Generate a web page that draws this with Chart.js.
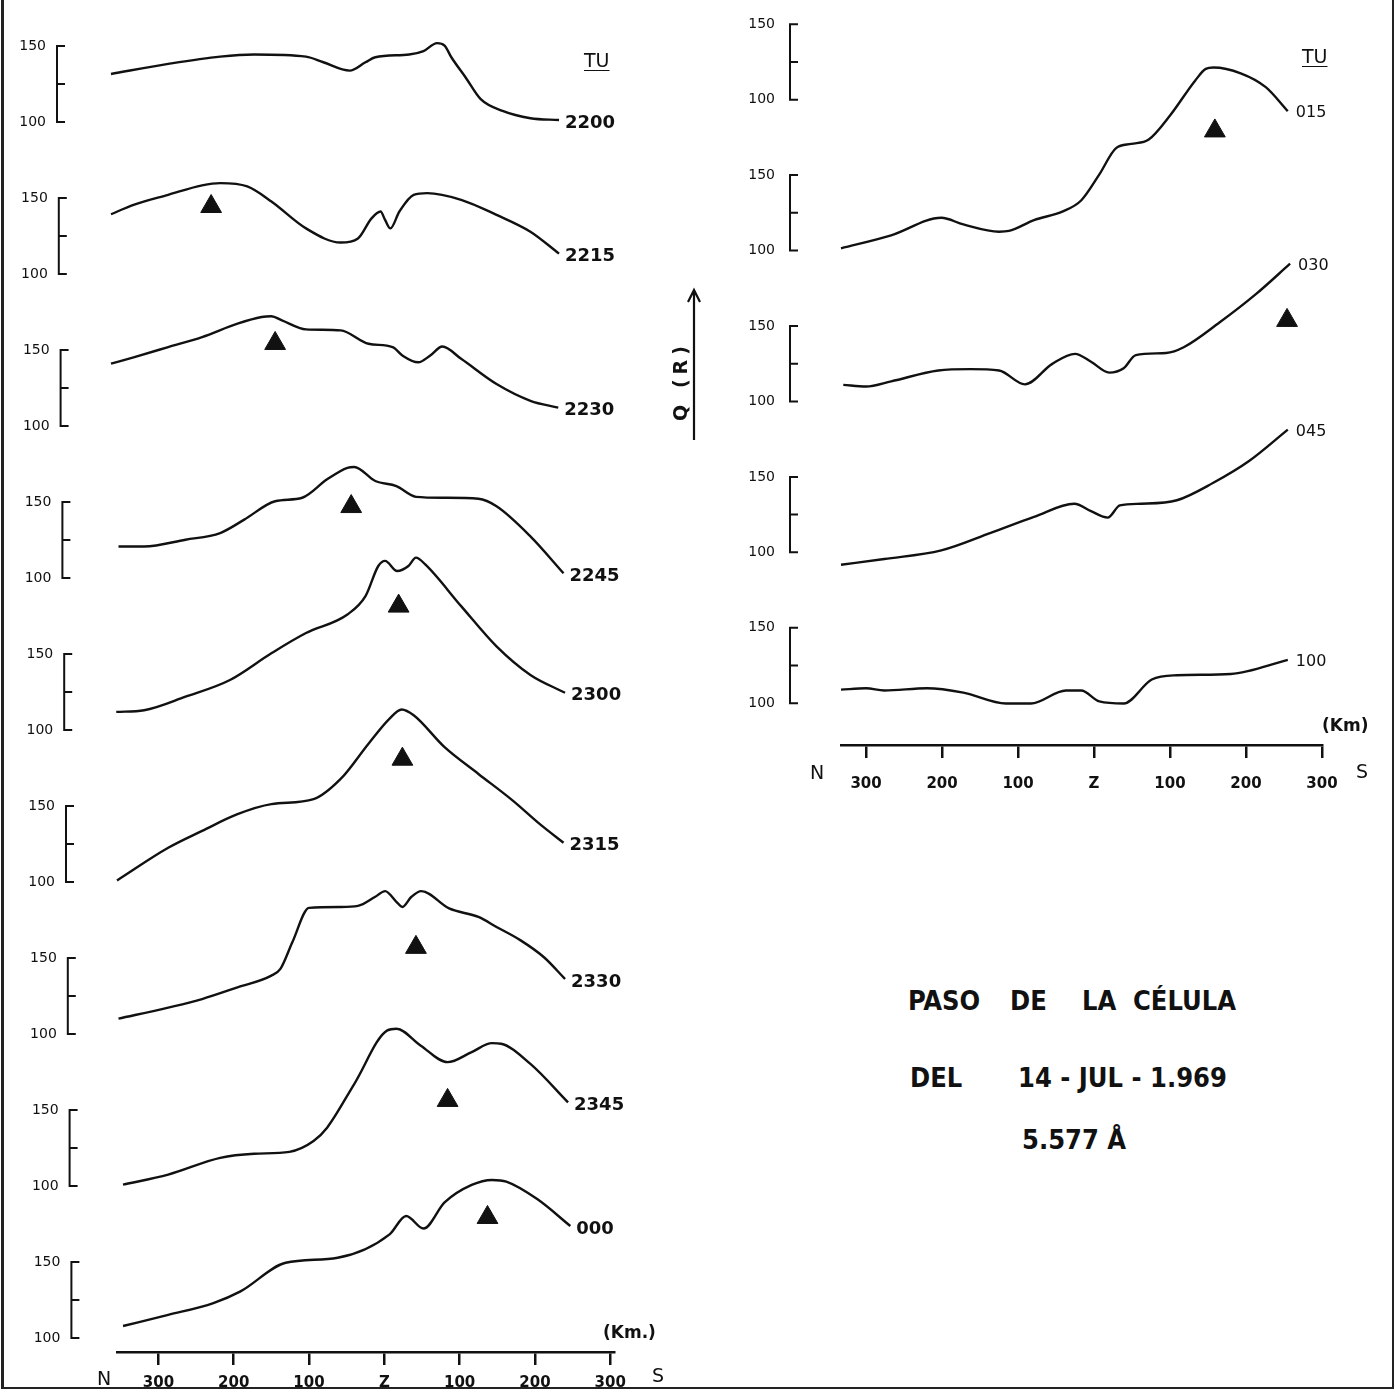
<!DOCTYPE html>
<html lang="es">
<head>
<meta charset="utf-8">
<title>Paso de la célula del 14-JUL-1969</title>
<script src="https://cdn.jsdelivr.net/npm/chart.js@4.4.1/dist/chart.umd.min.js"></script>
<style>
  html, body { margin: 0; padding: 0; background: #fff; }
  #page { position: relative; width: 1395px; height: 1393px; overflow: hidden; background: #fff; color: #111; font-family: 'DejaVu Sans', sans-serif; }
  #frame { position: absolute; left: 1px; top: -4px; width: 1388px; height: 1391px; border-left: 3px solid #222; border-right: 2px solid #222; border-bottom: 2px solid #222; }
  canvas { position: absolute; top: 0; }
  #leftChart { left: 0; }
  #rightChart { left: 700px; }
  .txt { position: absolute; white-space: nowrap; line-height: 24px; font-size: 19px; }
  .tu { text-decoration: underline; text-underline-offset: 3px; }
  .km { font-size: 17px; font-weight: bold; }
  .title { position: absolute; white-space: nowrap; line-height: 30px; font-family: 'DejaVu Sans Condensed', 'DejaVu Sans', sans-serif; font-weight: bold; font-size: 27px; }
  #qlabel { position: absolute; left: 680px; top: 381px; transform: translate(-50%, -50%) rotate(-90deg); font-weight: bold; font-size: 19px; letter-spacing: 5px; white-space: nowrap; }
  #arrow { position: absolute; left: 684px; top: 284px; }
</style>
</head>
<body>
<div id="page">
  <div id="frame"></div>
  <canvas id="leftChart" width="700" height="1393"></canvas>
  <canvas id="rightChart" width="695" height="800"></canvas>

  <div class="txt tu" style="left:584px; top:48px">TU</div>
  <div class="txt tu" style="left:1302px; top:44px">TU</div>
  <div class="txt" style="left:97px; top:1366px">N</div>
  <div class="txt" style="left:652px; top:1363px">S</div>
  <div class="txt km" style="left:603px; top:1320px">(Km.)</div>
  <div class="txt" style="left:810px; top:760px">N</div>
  <div class="txt" style="left:1356px; top:759px">S</div>
  <div class="txt km" style="left:1322px; top:713px">(Km)</div>

  <svg id="arrow" width="20" height="160"><path d="M10 156 V6 M4 18 L10 6 L16 18" stroke="#111" stroke-width="2.2" fill="none"/></svg>
  <div id="qlabel">Q (R)</div>

  <div class="title" style="left:908px; top:986px">PASO</div>
  <div class="title" style="left:1010px; top:986px">DE</div>
  <div class="title" style="left:1082px; top:986px">LA</div>
  <div class="title" style="left:1133px; top:986px">CÉLULA</div>
  <div class="title" style="left:910px; top:1063px">DEL</div>
  <div class="title" style="left:1018px; top:1063px">14 - JUL - 1.969</div>
  <div class="title" style="left:1022px; top:1125px">5.577 Å</div>
</div>

<script>
// distancia N-S (km, N negativo) y Q en rayleigh
const km2200 = [-363, -287, -218, -173, -104, -81, -46, -25, -12, 33, 52, 70, 80, 89, 108, 128, 157, 194, 232];
const q2200 = [131.6, 138.2, 143, 144.4, 143, 139.3, 133.8, 139.3, 142.6, 144.4, 146.6, 151.9, 150.3, 142.6, 129.3, 115, 107.3, 102.5, 101.3];
const km2215 = [-363, -333, -287, -242, -218, -182, -150, -104, -58, -35, -17, -5, 1, 8, 20, 39, 57, 102, 149, 194, 232];
const q2215 = [139.3, 145.5, 152.1, 158.3, 159.8, 157.6, 147.7, 130, 120.7, 123.4, 136.6, 141.1, 135.6, 130, 141.1, 152.1, 153.2, 148.8, 138.9, 127.8, 113.4];
const km2230 = [-363, -333, -287, -242, -195, -163, -150, -136, -104, -58, -21, 11, 24, 45, 61, 77, 102, 149, 194, 231];
const q2230 = [141, 145.2, 151.9, 158.5, 167.3, 171.7, 172.2, 169.5, 163.6, 162.9, 154.1, 151.9, 146.4, 141.9, 146.4, 152.3, 144.2, 127.6, 116.6, 112.1];
const km2245 = [-353, -319, -264, -218, -186, -145, -109, -76, -49, -40, -12, 16, 42, 80, 125, 149, 194, 238];
const q2245 = [120.7, 120.7, 125.2, 129.6, 138.4, 150.5, 152.8, 164.9, 172.5, 173, 163.8, 160.5, 153.4, 152.8, 152.1, 147.2, 127.4, 103.1];
const km2300 = [-356, -319, -264, -205, -150, -104, -49, -25, -8, 1, 17, 32, 42, 54, 102, 149, 194, 240];
const q2300 = [111.9, 113, 121.9, 132.9, 150.5, 163.8, 176, 188.1, 207.9, 211.3, 204.6, 207.9, 213.4, 209.1, 181.5, 155, 136.2, 124.5];
const km2315 = [-355, -287, -242, -195, -150, -94, -58, -21, 7, 23, 39, 80, 125, 171, 207, 238];
const q2315 = [101, 122.5, 133.6, 144.6, 151.2, 154.5, 167.8, 191, 207.5, 213.5, 209.7, 188.7, 171.1, 153.4, 137.9, 125.8];
const km2330 = [-353, -287, -242, -195, -150, -138, -122, -100, -58, -35, -12, 1, 16, 24, 36, 49, 86, 125, 149, 181, 212, 240];
const q2330 = [110.1, 117.4, 123, 130.7, 138.4, 142.8, 160.5, 183, 183.6, 184.3, 190.3, 194, 187, 183.6, 190.3, 194, 182.6, 177, 170.4, 161.6, 150.5, 136.2];
const km2345 = [-347, -287, -218, -173, -126, -94, -76, -40, 4, 16, 48, 84, 116, 143, 155, 194, 244];
const q2345 = [100.9, 107.5, 118.5, 121.2, 122.5, 129.6, 138.4, 167.1, 202.4, 203.5, 192.5, 181.5, 188.1, 194, 193.6, 180.3, 155];
const km000 = [-347, -287, -227, -191, -131, -62, 7, 29, 52, 80, 116, 143, 162, 203, 247];
const q000 = [107.9, 115.2, 123, 130.7, 149.5, 152.8, 168.2, 180.3, 172, 189.2, 200.7, 204, 202.9, 191.4, 173.7];
const km015 = [-333, -267, -201, -172, -125, -112, -79, -41, -17, 7, 29, 49, 72, 100, 133, 147, 157, 193, 226, 255];
const q015 = [101.5, 110.1, 121.7, 117.3, 112.5, 113, 120.2, 126, 133.2, 150.5, 167.9, 170.7, 173.6, 189.5, 212.6, 220.4, 221.3, 217.5, 208.3, 192.4];
const km030 = [-330, -300, -267, -205, -163, -125, -91, -55, -25, -4, 20, 39, 55, 95, 118, 165, 213, 258];
const q030 = [111, 109.9, 113.3, 120.5, 121.4, 120.5, 111.3, 124.9, 131.5, 126.3, 119.1, 122, 130.7, 132.1, 135.9, 152.3, 171.1, 191.3];
const km045 = [-333, -276, -201, -136, -79, -26, -4, 18, 34, 62, 109, 157, 204, 255];
const q045 = [91.8, 95.6, 101.3, 112.9, 123.5, 132.2, 127.3, 123, 131.1, 132.2, 134.5, 146.1, 160.5, 181.3];
const km100 = [-333, -300, -276, -220, -172, -116, -83, -37, -17, 7, 39, 76, 109, 180, 255];
const q100 = [109, 109.9, 108.4, 109.9, 107, 99.8, 99.8, 108.4, 108.4, 101.2, 99.8, 115.7, 118.5, 119.4, 128.7];

// posición de la célula (triángulos)
const cellTimes = ['2215', '2230', '2245', '2300', '2315', '2330', '2345', '000', '015', '030'];
const cellKm = [-230, -145, -44, 19, 24, 42, 84, 137, 159, 254];
const cellQ = [144.4, 154.3, 147, 181.5, 180.8, 157, 156.3, 179.3, 179.3, 153.7];

const leftTimes = ['2200', '2215', '2230', '2245', '2300', '2315', '2330', '2345', '000'];
const leftKm = [km2200, km2215, km2230, km2245, km2300, km2315, km2330, km2345, km000];
const leftQ = [q2200, q2215, q2230, q2245, q2300, q2315, q2330, q2345, q000];
const rightTimes = ['015', '030', '045', '100'];
const rightKm = [km015, km030, km045, km100];
const rightQ = [q015, q030, q045, q100];

const xTicks = [-300, -200, -100, 0, 100, 200, 300];
const xTickLabels = ['300', '200', '100', 'Z', '100', '200', '300'];
const qTicks = [100, 150];

const ink = '#111';

// corchete de escala 100-150 y rótulo de hora al final de cada curva
const decor = {
  id: 'decor',
  afterDatasetsDraw(chart, args, opts) {
    const ctx = chart.ctx;
    ctx.save();
    ctx.strokeStyle = ink;
    ctx.lineWidth = 2;
    Object.values(chart.scales).forEach(s => {
      if (s.axis !== 'y') return;
      const i = parseInt(s.id.slice(1), 10);
      const x = s.right + opts.bracketX + opts.drift * i;
      const yTop = s.getPixelForValue(qTicks[1]);
      const yBot = s.getPixelForValue(qTicks[0]);
      const yMid = s.getPixelForValue((qTicks[0] + qTicks[1]) / 2);
      ctx.beginPath();
      ctx.moveTo(x + 8, yTop);
      ctx.lineTo(x, yTop);
      ctx.lineTo(x, yBot);
      ctx.lineTo(x + 8, yBot);
      ctx.moveTo(x, yMid);
      ctx.lineTo(x + 8, yMid);
      ctx.stroke();
    });
    ctx.fillStyle = ink;
    ctx.font = opts.labelFont;
    ctx.textBaseline = 'middle';
    ctx.textAlign = 'left';
    chart.data.datasets.forEach((ds, k) => {
      if (ds.isMarker) return;
      const pts = chart.getDatasetMeta(k).data;
      const end = pts[pts.length - 1];
      ctx.fillText(ds.label, end.x + opts.labelDx, end.y + opts.labelDy);
    });
    ctx.restore();
  }
};

function buildPanel(id, times, kms, qs, p) {
  const scales = {
    x: {
      type: 'linear',
      min: p.xMin,
      max: p.xMax,
      afterBuildTicks: s => { s.ticks = xTicks.map(v => ({ value: v })); },
      afterFit: s => { s.height = p.xHeight; },
      ticks: {
        callback: (v, i) => xTickLabels[i],
        font: { family: 'DejaVu Sans', size: 15, weight: 'bold' },
        color: ink,
        padding: p.xPad,
        autoSkip: false,
        maxRotation: 0
      },
      grid: { drawOnChartArea: false, drawTicks: true, tickLength: 13, color: ink, lineWidth: 2.5 },
      border: { display: true, color: ink, width: 2.5 }
    }
  };
  for (let i = 0; i < p.axisCount; i++) {
    const w = i === 0 ? p.topWeight : 1;
    scales['y' + i] = {
      type: 'linear',
      position: 'left',
      stack: 'q',
      stackWeight: w,
      weight: p.axisCount - i,
      min: p.yMin,
      max: p.yMin + p.ySpan * w,
      afterBuildTicks: s => { s.ticks = qTicks.map(v => ({ value: v })); },
      afterFit: s => { s.width = p.yWidth; },
      ticks: {
        font: { family: 'DejaVu Sans', size: 14 },
        color: ink,
        padding: 1
      },
      // invisible tick marks only push the labels out to the left
      grid: { display: true, drawOnChartArea: false, drawTicks: true, tickLength: p.labelPad - 1 - p.drift * i, color: 'rgba(0,0,0,0)' },
      border: { display: false }
    };
  }

  const datasets = [];
  times.forEach((t, k) => {
    const axis = 'y' + (k + p.firstAxis);
    datasets.push({
      label: t,
      data: kms[k].map((x, j) => ({ x: x, y: qs[k][j] })),
      yAxisID: axis,
      borderColor: ink,
      borderWidth: 2.4,
      pointRadius: 0,
      fill: false,
      cubicInterpolationMode: 'monotone',
      clip: false
    });
    const c = cellTimes.indexOf(t);
    if (c >= 0) {
      datasets.push({
        label: t + ' célula',
        isMarker: true,
        data: [{ x: cellKm[c], y: cellQ[c] }],
        yAxisID: axis,
        showLine: false,
        pointStyle: 'triangle',
        pointRadius: 12,
        backgroundColor: ink,
        borderColor: ink,
        borderWidth: 1,
        clip: false
      });
    }
  });

  return new Chart(document.getElementById(id), {
    type: 'line',
    data: { datasets: datasets },
    plugins: [decor],
    options: {
      responsive: false,
      animation: false,
      devicePixelRatio: 1,
      layout: { padding: p.padding },
      scales: scales,
      plugins: {
        legend: { display: false },
        tooltip: { enabled: false },
        decor: { bracketX: p.bracketX, drift: p.drift, labelFont: p.labelFont, labelDx: p.labelDx, labelDy: p.labelDy }
      }
    }
  });
}

buildPanel('leftChart', leftTimes, leftKm, leftQ, {
  axisCount: 9, firstAxis: 0,
  xMin: -355, xMax: 305, xHeight: 41, xPad: 9,
  yMin: 90.8, ySpan: 100, topWeight: 0.763,
  yWidth: 117, labelPad: 71, drift: 1.8, bracketX: -60,
  padding: { left: 0, right: 86, top: 20, bottom: 0 },
  labelFont: 'bold 18px "DejaVu Sans"', labelDx: 6, labelDy: 3
});

buildPanel('rightChart', rightTimes, rightKm, rightQ, {
  axisCount: 5, firstAxis: 1,
  xMin: -333, xMax: 300, xHeight: 55, xPad: 17,
  yMin: 72.3, ySpan: 100, topWeight: 0.8515,
  yWidth: 141, labelPad: 66, drift: 0, bracketX: -51,
  padding: { left: 0, right: 73, top: 10, bottom: 0 },
  labelFont: '16px "DejaVu Sans"', labelDx: 8, labelDy: 2
});
</script>
</body>
</html>
